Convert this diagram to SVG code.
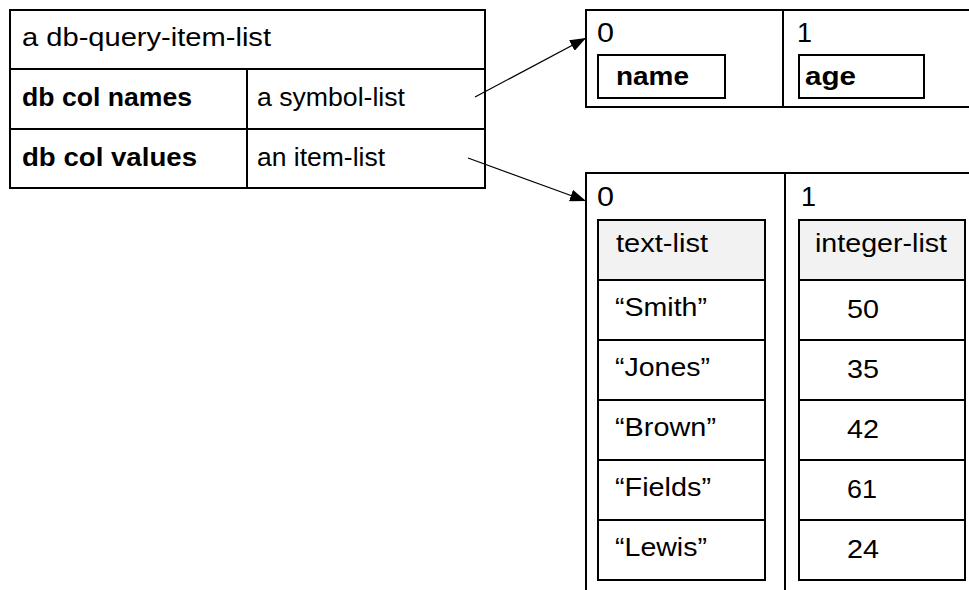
<svg xmlns="http://www.w3.org/2000/svg" width="969" height="590" viewBox="0 0 969 590">
  <style>
    .box { fill: #ffffff; stroke: #000000; stroke-width: 2; }
    .hdr { fill: #f2f2f2; stroke: #000000; stroke-width: 2; }
    .ln { stroke: #000000; stroke-width: 2; fill: none; }
    .t { font-family: "Liberation Sans", Arial, sans-serif; font-size: 26px; fill: #000000; }
    .b { font-weight: bold; font-size: 25px; }
    .d { font-size: 27px; }
    .conn { stroke: #000000; stroke-width: 1.2; fill: none; }
  </style>
  <defs>
    <marker id="arrow" markerUnits="userSpaceOnUse" markerWidth="18" markerHeight="12" refX="16" refY="6" orient="auto">
      <path d="M0,0 L16,6 L0,12 Z" fill="#000000"/>
    </marker>
  </defs>
  <rect width="969" height="590" fill="#ffffff"/>

  <g id="db-query-item-list">
    <rect class="box" x="10" y="10" width="475" height="178"/>
    <line class="ln" x1="10" y1="69" x2="485" y2="69"/>
    <line class="ln" x1="10" y1="129" x2="485" y2="129"/>
    <line class="ln" x1="247" y1="69" x2="247" y2="188"/>
    <text class="t" x="22" y="46" textLength="249" lengthAdjust="spacingAndGlyphs">a db-query-item-list</text>
    <text class="t b" x="22" y="106" textLength="170" lengthAdjust="spacingAndGlyphs">db col names</text>
    <text class="t" x="257" y="106" textLength="148" lengthAdjust="spacingAndGlyphs">a symbol-list</text>
    <text class="t b" x="22" y="166" textLength="175" lengthAdjust="spacingAndGlyphs">db col values</text>
    <text class="t" x="257" y="166" textLength="128" lengthAdjust="spacingAndGlyphs">an item-list</text>
  </g>

  <g id="symbol-list">
    <rect class="box" x="586" y="10" width="420" height="97"/>
    <line class="ln" x1="783" y1="10" x2="783" y2="107"/>
    <text class="t d" x="597" y="42" textLength="17" lengthAdjust="spacingAndGlyphs">0</text>
    <text class="t d" x="797" y="42" textLength="15" lengthAdjust="spacingAndGlyphs">1</text>
    <rect class="box" x="598" y="55" width="127" height="43"/>
    <rect class="box" x="799" y="55" width="125" height="43"/>
    <text class="t b" x="616" y="85" textLength="73" lengthAdjust="spacingAndGlyphs">name</text>
    <text class="t b" x="805" y="85" textLength="51" lengthAdjust="spacingAndGlyphs">age</text>
  </g>

  <g id="item-list">
    <rect class="box" x="586" y="173" width="420" height="430"/>
    <line class="ln" x1="785" y1="173" x2="785" y2="590"/>
    <text class="t d" x="597" y="206" textLength="17" lengthAdjust="spacingAndGlyphs">0</text>
    <text class="t d" x="801" y="206" textLength="15" lengthAdjust="spacingAndGlyphs">1</text>
  </g>

  <g id="text-list">
    <rect class="box" x="598" y="220" width="167" height="360"/>
    <rect class="hdr" x="598" y="220" width="167" height="60"/>
    <line class="ln" x1="598" y1="340" x2="765" y2="340"/>
    <line class="ln" x1="598" y1="400" x2="765" y2="400"/>
    <line class="ln" x1="598" y1="460" x2="765" y2="460"/>
    <line class="ln" x1="598" y1="520" x2="765" y2="520"/>
    <text class="t" x="616" y="252" textLength="92" lengthAdjust="spacingAndGlyphs">text-list</text>
    <text class="t" x="615" y="316" textLength="92" lengthAdjust="spacingAndGlyphs">“Smith”</text>
    <text class="t" x="615" y="376" textLength="95" lengthAdjust="spacingAndGlyphs">“Jones”</text>
    <text class="t" x="615" y="436" textLength="101" lengthAdjust="spacingAndGlyphs">“Brown”</text>
    <text class="t" x="615" y="496" textLength="96" lengthAdjust="spacingAndGlyphs">“Fields”</text>
    <text class="t" x="615" y="556" textLength="92" lengthAdjust="spacingAndGlyphs">“Lewis”</text>
  </g>

  <g id="integer-list">
    <rect class="box" x="799" y="220" width="166" height="360"/>
    <rect class="hdr" x="799" y="220" width="166" height="60"/>
    <line class="ln" x1="799" y1="340" x2="965" y2="340"/>
    <line class="ln" x1="799" y1="400" x2="965" y2="400"/>
    <line class="ln" x1="799" y1="460" x2="965" y2="460"/>
    <line class="ln" x1="799" y1="520" x2="965" y2="520"/>
    <text class="t" x="815" y="252" textLength="132" lengthAdjust="spacingAndGlyphs">integer-list</text>
    <text class="t" x="847" y="318" textLength="32" lengthAdjust="spacingAndGlyphs">50</text>
    <text class="t" x="847" y="378" textLength="32" lengthAdjust="spacingAndGlyphs">35</text>
    <text class="t" x="847" y="438" textLength="32" lengthAdjust="spacingAndGlyphs">42</text>
    <text class="t" x="847" y="498" textLength="30" lengthAdjust="spacingAndGlyphs">61</text>
    <text class="t" x="847" y="558" textLength="32" lengthAdjust="spacingAndGlyphs">24</text>
  </g>

  <g id="connectors">
    <line class="conn" x1="475" y1="97" x2="586" y2="38" marker-end="url(#arrow)"/>
    <line class="conn" x1="468" y1="158" x2="586" y2="201" marker-end="url(#arrow)"/>
  </g>
</svg>
